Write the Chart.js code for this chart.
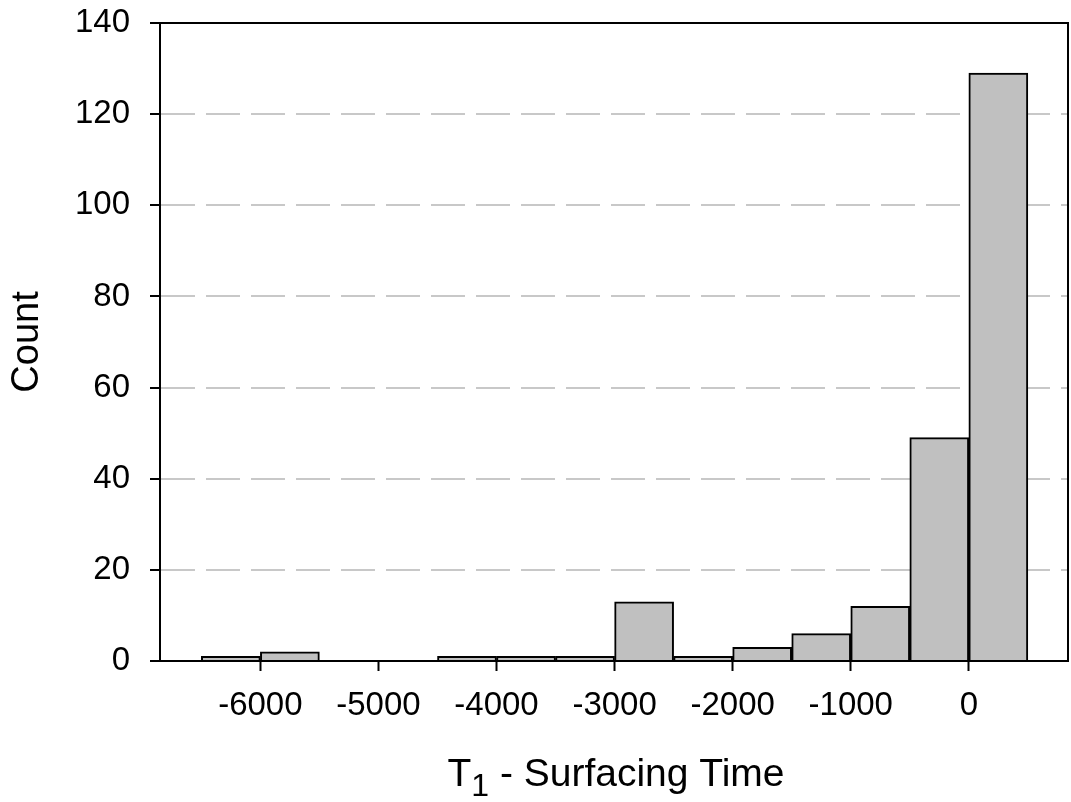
<!DOCTYPE html>
<html>
<head>
<meta charset="utf-8">
<script src="https://cdn.jsdelivr.net/npm/chart.js@4.4.1/dist/chart.umd.min.js"></script>
<style>
  html, body { margin: 0; padding: 0; background: #fff; }
  #wrap { width: 1071px; height: 802px; }
</style>
</head>
<body>
<div id="wrap"><canvas id="histChart" width="1071" height="802"></canvas></div>
<script>
// ヒストグラムのデータ (ビン中心, 幅 500)
const binCenters = [-6250, -5750, -4250, -3750, -3250, -2750, -2250, -1750, -1250, -750, -250, 250];
const binCounts  = [1, 2, 1, 1, 1, 13, 1, 3, 6, 12, 49, 129];
const xTickValues = [-6000, -5000, -4000, -3000, -2000, -1000, 0];
const yTickValues = [0, 20, 40, 60, 80, 100, 120, 140];

const FONT = '"Liberation Sans", Arial, sans-serif';

// 軸タイトルと上・右の枠線
const frameAndTitles = {
  id: 'frame-and-titles',
  afterDraw: function (chart) {
    const { ctx, chartArea: { top, right, bottom, left } } = chart;
    ctx.save();
    ctx.strokeStyle = 'black';
    ctx.lineWidth = 2;
    ctx.beginPath();
    ctx.moveTo(left, top);
    ctx.lineTo(right, top);
    ctx.lineTo(right, bottom);
    ctx.stroke();

    ctx.fillStyle = 'black';
    // "Count"
    ctx.translate(28, (top + bottom) / 2);
    ctx.rotate(-Math.PI / 2);
    ctx.font = '38px ' + FONT;
    ctx.textAlign = 'center';
    ctx.textBaseline = 'middle';
    ctx.fillText('Count', 0, 0);
    ctx.restore();

    // "T1 - Surfacing Time" (下付き文字付き)
    ctx.save();
    ctx.fillStyle = 'black';
    ctx.textBaseline = 'alphabetic';
    ctx.textAlign = 'left';
    const big = '39px ' + FONT;
    const small = '32px ' + FONT;
    ctx.font = big;
    const wT = ctx.measureText('T').width;
    const wRest = ctx.measureText(' - Surfacing Time').width;
    ctx.font = small;
    const wSub = ctx.measureText('1').width;
    const total = wT + wSub + wRest;
    let x = (left + right) / 2 - total / 2 + 2;
    const base = 786;
    ctx.font = big;
    ctx.fillText('T', x, base);
    x += wT;
    ctx.font = small;
    ctx.fillText('1', x, base + 10);
    x += wSub;
    ctx.font = big;
    ctx.fillText(' - Surfacing Time', x, base);
    ctx.restore();
  }
};

const histChart = new Chart(document.getElementById('histChart'), {
  type: 'bar',
  data: {
    datasets: [
      {
        data: binCenters.map((c, i) => ({ x: c, y: binCounts[i] })),
        backgroundColor: '#c0c0c0',
        borderColor: 'black',
        borderWidth: 2,
        borderSkipped: 'start',
        barPercentage: 1,
        categoryPercentage: 1,
      },
    ],
  },
  options: {
    responsive: false,
    animation: false,
    events: [],
    layout: { padding: { top: 23, right: 3, left: 0, bottom: 0 } },
    plugins: {
      legend: { display: false },
      tooltip: { enabled: false },
    },
    scales: {
      x: {
        type: 'linear',
        offset: false,
        min: -6850,
        max: 840,
        z: 1,
        afterFit: function (scale) {
          scale.height = 802 - 661;
          scale.paddingLeft = 0;
          scale.paddingRight = 0;
        },
        afterBuildTicks: function (scale) {
          scale.ticks = xTickValues.map(v => ({ value: v }));
        },
        grid: {
          offset: false,
          drawOnChartArea: false,
          drawTicks: true,
          tickLength: 10,
          tickColor: 'black',
          tickWidth: 2,
        },
        border: { display: true, color: 'black', width: 2 },
        ticks: {
          color: 'black',
          padding: 15,
          maxRotation: 0,
          autoSkip: false,
          callback: v => String(v),
          font: { family: FONT, size: 33 },
        },
      },
      y: {
        min: 0,
        max: 140,
        afterFit: function (scale) {
          scale.width = 160;
          scale.paddingTop = 0;
          scale.paddingBottom = 0;
        },
        afterBuildTicks: function (scale) {
          scale.ticks = yTickValues.map(v => ({ value: v }));
        },
        grid: {
          color: ctx => (ctx.tick && (ctx.tick.value === 0 || ctx.tick.value === 140)) ? 'rgba(0,0,0,0)' : '#c8c8c8',
          lineWidth: 2,
          drawTicks: true,
          tickLength: 10,
          tickColor: 'black',
          tickWidth: 2,
          tickBorderDash: [],
        },
        border: { display: true, color: 'black', width: 2, dash: [34, 11] },
        ticks: {
          color: 'black',
          padding: 20,
          font: { family: FONT, size: 33 },
        },
      },
    },
  },
  plugins: [frameAndTitles],
});
</script>
</body>
</html>
